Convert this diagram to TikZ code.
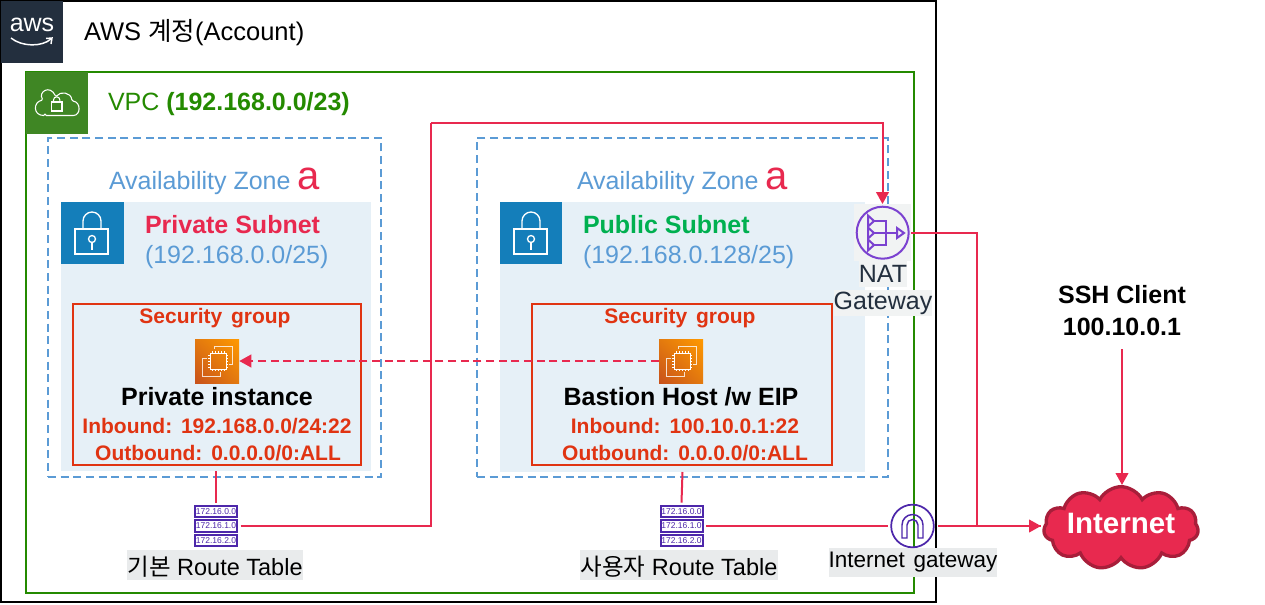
\documentclass[tikz,border=0pt]{standalone}
\usepackage{fontspec}
\setmainfont{Liberation Sans}
\newfontfamily\krfont{Noto Sans CJK KR}
\usetikzlibrary{arrows.meta,shapes.symbols,shadings}
\definecolor{awsdark}{HTML}{232F3E}
\definecolor{vpcgreen}{HTML}{248A00}
\definecolor{vpcicon}{HTML}{3F8624}
\definecolor{azblue}{HTML}{5B9BD5}
\definecolor{subbg}{HTML}{E6F0F7}
\definecolor{subicon}{HTML}{147EBA}
\definecolor{sgred}{HTML}{E03412}
\definecolor{pinkred}{HTML}{E8294F}
\definecolor{pubgreen}{HTML}{00B050}
\definecolor{rtpurple}{HTML}{4D27AA}
\definecolor{natpurple}{HTML}{7B42D0}
\definecolor{lblbg}{HTML}{E9EBEC}
\definecolor{natbgc}{HTML}{F1F3F3}
\definecolor{cloudedge}{HTML}{A81E3A}
\definecolor{ecdark}{HTML}{C8511B}
\definecolor{eclight}{HTML}{FF9900}
\definecolor{ecmid}{HTML}{E37A0E}
\newcommand{\fpx}[1]{\fontsize{\dimexpr#1pt*3/4\relax}{\dimexpr#1pt*9/10\relax}\selectfont}
\tikzset{
  x=0.75pt,y=-0.75pt,
  box/.style={inner sep=0pt,outer sep=0pt,anchor=north west},
  txt/.style={inner sep=0pt,outer sep=0pt},
  link/.style={draw=pinkred,line width=1.5pt},
  tip/.style={-{Triangle[length=9pt,width=9.5pt]}},
  rtbox/.style={draw=rtpurple,line width=1.5pt,fill=white,minimum width=31.5pt,minimum height=8.8pt,inner sep=0pt,text=rtpurple,font=\fpx{8.5}},
  ec2/.style={inner sep=0pt,minimum size=33pt,lower left=ecdark,upper right=eclight,upper left=ecmid,lower right=ecmid},
  glyph/.style={draw=white,line width=1pt},
  sgt/.style={txt,text=sgred,font=\fpx{21}\bfseries},
  lbl/.style={txt,fill=lblbg,font=\fpx{23.5},text=black},
}
\newcommand{\wgap}{\hspace{0.42em}}
\newcommand{\rect}[6]{\node[box,minimum width=#4*0.75pt-#2*0.75pt,minimum height=#5*0.75pt-#3*0.75pt,#6] (#1) at (#2,#3) {};}
\newcommand{\sublock}[2]{\begin{scope}[shift={(#1,#2)}]
 \draw[glyph,fill=none] (14,27) rectangle (47,52);
 \draw[glyph] (22,27) -- (22,19) arc[start angle=180,end angle=360,radius=9] -- (40,27);
 \draw[glyph] (31,37) circle[radius=3.5];
 \draw[glyph] (31,40.5) -- (31,48);
\end{scope}}
\newcommand{\ecglyph}[2]{\begin{scope}[shift={(#1,#2)},white]
 \draw[line width=0.7pt,white,fill=none] (15,14) rectangle (31,30);
 \foreach \p in {17,20,23,26,29}{\draw[line width=0.4pt] (\p,12) -- (\p,14) (\p,30) -- (\p,32) (13,\p-1) -- (15,\p-1) (31,\p-1) -- (33,\p-1);}
 \draw[line width=0.6pt,white,opacity=.8] (19,10) -- (19,7) -- (37,7) -- (37,25) -- (34,25);
 \draw[line width=0.6pt,white,opacity=.8] (12,19) -- (7,19) -- (7,37) -- (25,37) -- (25,33);
\end{scope}}
\begin{document}
\begin{tikzpicture}
\useasboundingbox (0,0) rectangle (1265,604);
\fill[white] (0,0) rectangle (1265,604);
% containers
\rect{account}{1}{1}{936}{602}{draw=black,line width=1.5pt}
\rect{awsicon}{1}{1}{63}{63}{fill=awsdark}
\node[txt,text=white,font=\fpx{25}] (awsword) at (32,25) {aws};
\draw[white,line width=1.1pt] (11,38) .. controls (22,47) and (42,47) .. (51,39);
\draw[white,line width=1.1pt] (46,38.5) -- (52,38) -- (51,44);
\node[txt,anchor=west,font=\fpx{25.5}] (acct) at (84,32.5) {AWS {\krfont 계정}(Account)};
\rect{vpc}{26}{72}{914}{593}{draw=vpcgreen,line width=1.5pt}
\rect{vpcicon}{26}{72}{88}{134}{fill=vpcicon}
\draw[white,line width=0.8pt,rounded corners=1pt] (45,115.5) -- (72,115.5) .. controls (81,115.5) and (81,102) .. (72,101) .. controls (71,92) and (60,91) .. (56,97) .. controls (50,84) and (38,92) .. (43,100) .. controls (33,102) and (33,115.5) .. (45,115.5) -- cycle;
\draw[white,line width=0.8pt] (51.5,102) rectangle (62,111);
\draw[white,line width=0.8pt] (53.5,102) -- (53.5,100) arc[start angle=180,end angle=360,radius=3.2] -- (59.9,102);
\node[txt,anchor=west,text=vpcgreen,font=\fpx{25}] (vpct) at (108,104) {VPC \textbf{(192.168.0.0/23)}};
% availability zones
\rect{azA}{48}{138}{381}{477}{draw=azblue,dashed,dash pattern=on 6pt off 3.5pt,line width=1.2pt}
\rect{azB}{477}{138}{888}{477}{draw=azblue,dashed,dash pattern=on 6pt off 3.5pt,line width=1.2pt}
\node[txt,anchor=base west,text=azblue,font=\fpx{25}] (aztA) at (109,189) {Availability Zone};
\node[txt,anchor=base west,text=pinkred,font=\fpx{40}] (azaA) at (297,189) {a};
\node[txt,anchor=base west,text=azblue,font=\fpx{25}] (aztB) at (577,189) {Availability Zone};
\node[txt,anchor=base west,text=pinkred,font=\fpx{40}] (azaB) at (765,189) {a};
% subnets
\rect{subA}{61}{202}{371}{471}{fill=subbg}
\rect{subB}{500}{202}{865}{472}{fill=subbg}
\rect{subiA}{61}{202}{124}{264}{fill=subicon}
\rect{subiB}{500}{202}{562}{264}{fill=subicon}
\sublock{61}{202}
\sublock{500}{202}
\node[txt,anchor=base west,text=pinkred,font=\fpx{25}\bfseries] (subtA) at (145,233) {Private Subnet};
\node[txt,anchor=base west,text=azblue,font=\fpx{25}] (subcA) at (145,263) {(192.168.0.0/25)};
\node[txt,anchor=base west,text=pubgreen,font=\fpx{25}\bfseries] (subtB) at (583,233) {Public Subnet};
\node[txt,anchor=base west,text=azblue,font=\fpx{25}] (subcB) at (583,263) {(192.168.0.128/25)};
% security groups
\rect{sgA}{73}{304}{361}{465}{draw=sgred,line width=1.5pt}
\rect{sgB}{532}{304}{832}{465}{draw=sgred,line width=1.5pt}
\node[sgt] (sgtA) at (215,318) {Security\wgap group};
\node[sgt] (sgtB) at (680,318) {Security\wgap group};
\node[ec2,shade] (ecA) at (217,361) {};
\node[ec2,shade] (ecB) at (681,361) {};
\ecglyph{195}{339}
\ecglyph{659}{339}
\node[txt,font=\fpx{25}\bfseries] (instA) at (217,397) {Private instance};
\node[txt,font=\fpx{25}\bfseries] (instB) at (681,397) {Bastion Host /w EIP};
\node[sgt] (inA) at (217,426) {Inbound:\wgap 192.168.0.0/24:22};
\node[sgt] (outA) at (218,453) {Outbound:\wgap 0.0.0.0/0:ALL};
\node[sgt] (inB) at (685,426) {Inbound:\wgap 100.10.0.1:22};
\node[sgt] (outB) at (685,453) {Outbound:\wgap 0.0.0.0/0:ALL};
% route tables
\foreach \n/\x in {A/216,B/681.5}{
  \node[rtbox] (rt\n1) at (\x,511.5) {172.16.0.0};
  \node[rtbox] (rt\n2) at (\x,526) {172.16.1.0};
  \node[rtbox] (rt\n3) at (\x,540.5) {172.16.2.0};
}
\node[lbl,minimum width=132pt,minimum height=23pt,text depth=0pt] (rtlA) at (215,565) {\raisebox{-1.2pt}{{\krfont 기본} Route Table}};
\node[lbl,minimum width=148.5pt,minimum height=23pt,text depth=0pt] (rtlB) at (679,565) {\raisebox{-1.2pt}{{\krfont 사용자} Route Table}};
% NAT gateway
\rect{natbg}{854}{204}{911}{261}{fill=natbgc}
\node[txt,fill=natbgc,text=awsdark,font=\fpx{25},minimum width=34.5pt,minimum height=19.5pt] (natt1) at (883,274) {\raisebox{0.8pt}{NAT}};
\node[txt,fill=natbgc,text=awsdark,font=\fpx{25},minimum width=74pt,minimum height=20pt] (natt2) at (883,303) {\raisebox{-1pt}{Gateway}};
\node[draw=natpurple,line width=1.5pt,circle,minimum size=39pt,inner sep=0pt] (nat) at (882.7,232.7) {};
\begin{scope}[natpurple,line width=1.5pt]
 \foreach \yy in {221,233,245}{\draw (868,\yy-5.5) -- (874,\yy) -- (868,\yy+5.5) -- cycle;}
 \draw (874,221) -- (886,221) -- (886,245) -- (874,245);
 \draw (874,233) -- (897,233);
 \draw (897,228) -- (904,233) -- (897,238) -- cycle;
\end{scope}
% Internet gateway
\node[lbl,minimum width=126pt,minimum height=21.5pt,font=\fpx{22.5}] (igwt) at (913,562.5) {\raisebox{-2.4pt}{Internet\hspace{0.38em}gateway}};
\node[draw=rtpurple,line width=1.3pt,circle,minimum size=32pt,inner sep=0pt] (igw) at (912.5,526) {};
\begin{scope}[rtpurple,line width=1.1pt]
 \draw (902,538) -- (902,525) arc[start angle=180,end angle=360,radius=10.5] -- (923,538) -- (918,538) -- (918,525) arc[start angle=0,end angle=-180,radius=5.5] -- (907,538) -- cycle;
\end{scope}
% Internet cloud
\node[cloud,cloud puffs=11,cloud puff arc=125,aspect=1.9,cloud ignores aspect,fill=pinkred,draw=cloudedge,line width=2.5pt,inner sep=0pt,minimum width=116pt,minimum height=62pt,text=white,font=\fpx{29.5}\bfseries] (inet) at (1121,528) {\raisebox{7.5pt}{Internet}};
% SSH client
\node[txt,align=center,font=\fpx{25}\bfseries] (ssh) at (1122,310.5) {SSH Client\\[2pt]100.10.0.1};
% connectors
\coordinate (up) at (431,123);
\coordinate (riser) at (977,526);
\coordinate (inetW) at (1041,526);
\coordinate (sshOut) at (1122,349);
\path[link] (subA.south) -- ([yshift=1.5pt]rtA1.north);
\path[link] (subB.south) -- ([yshift=1.5pt]rtB1.north);
\path[link] ([xshift=2pt]rtA2.east) -| (up);
\draw[link,tip] (up) -| (natbg.north);
\path[link] (natbg.east) -| (riser) -- (inetW);
\path[link] ([xshift=2pt]rtB2.east) -- ([xshift=-2pt]igw.west);
\draw[link,tip] ([xshift=2.5pt]igw.east) -- (inetW);
\draw[link,tip] (sshOut) -- (sshOut |- inet.north);
\draw[link,dashed,dash pattern=on 6pt off 3.5pt,tip,line width=1.5pt] (ecB.west) -- (ecA.east);
\end{tikzpicture}
\end{document}
